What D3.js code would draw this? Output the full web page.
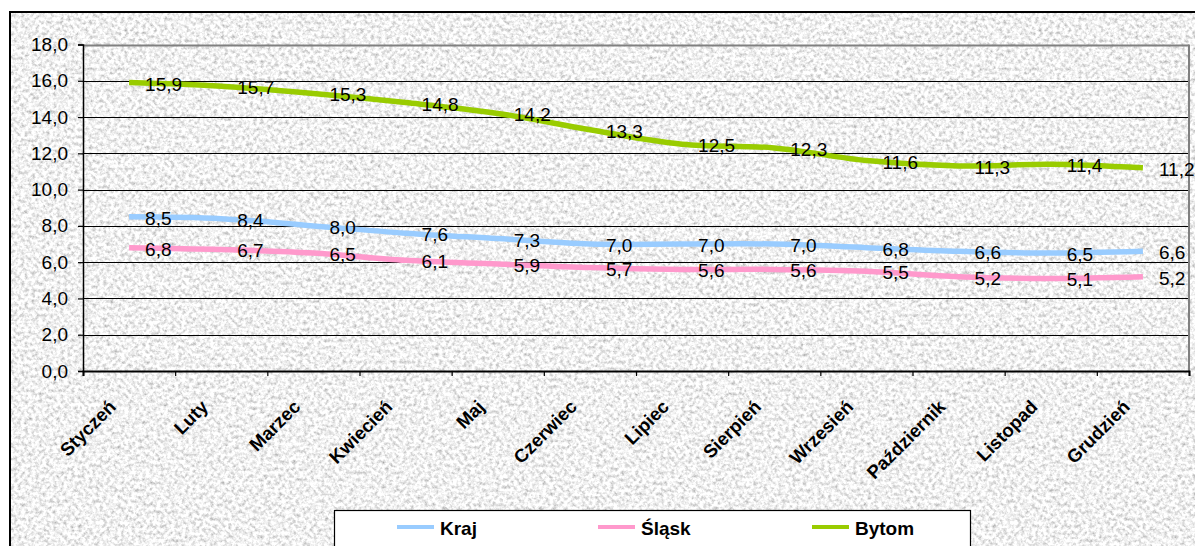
<!DOCTYPE html>
<html>
<head>
<meta charset="utf-8">
<script src="https://cdn.jsdelivr.net/npm/d3@7"></script>
<style>
  body { margin: 0; background: #fff; overflow: hidden; }
  text { font-family: "Liberation Sans", Arial, sans-serif; fill: #000; }
</style>
</head>
<body>
<div id="chart"></div>
<script>
const months = ["Styczeń", "Luty", "Marzec", "Kwiecień", "Maj", "Czerwiec", "Lipiec",
    "Sierpień", "Wrzesień", "Październik", "Listopad", "Grudzień"];
const kraj = [8.5, 8.4, 8.0, 7.6, 7.3, 7.0, 7.0, 7.0, 6.8, 6.6, 6.5, 6.6];
const slask = [6.8, 6.7, 6.5, 6.1, 5.9, 5.7, 5.6, 5.6, 5.5, 5.2, 5.1, 5.2];
const bytom = [15.9, 15.7, 15.3, 14.8, 14.2, 13.3, 12.5, 12.3, 11.6, 11.3, 11.4, 11.2];
const seriesNames = ["Kraj", "Śląsk", "Bytom"];
const yTicks = [0, 2, 4, 6, 8, 10, 12, 14, 16, 18];

const W = 1195, H = 546;
let plot = { left: 83, right: 1189, top: 44.5, bottom: 371 };

const series = [
    { name: seriesNames[0], values: kraj, color: "#99ccff" },
    { name: seriesNames[1], values: slask, color: "#ff99cc" },
    { name: seriesNames[2], values: bytom, color: "#99cc00" }
];

const pl = d3.formatLocale({ decimal: ",", thousands: " ", grouping: [3], currency: ["", ""] });
const fmt = pl.format(".1f");

const svg = d3.select("#chart").append("svg")
    .attr("width", W).attr("height", H);

// granite-like background texture
const defs = svg.append("defs");
const f = defs.append("filter").attr("id", "granite")
    .attr("x", 0).attr("y", 0).attr("width", "100%").attr("height", "100%");
f.append("feTurbulence").attr("type", "fractalNoise")
    .attr("baseFrequency", 0.28).attr("numOctaves", 4).attr("seed", 7).attr("result", "n");
f.append("feColorMatrix").attr("type", "matrix")
    .attr("values", "1.1 0 0 0 0.33  1.1 0 0 0 0.33  1.1 0 0 0 0.33  0 0 0 0 1");

svg.append("rect")
    .attr("x", 10).attr("y", 12).attr("width", 1300).attr("height", 700)
    .attr("fill", "#e4e4e4");
svg.append("rect")
    .attr("x", 10).attr("y", 12).attr("width", 1300).attr("height", 700)
    .attr("filter", "url(#granite)");
svg.append("rect")
    .attr("x", 10).attr("y", 12).attr("width", 1300).attr("height", 700)
    .attr("fill", "none").attr("stroke", "#000").attr("stroke-width", 2);

const x = d3.scaleBand().domain(months).range([plot.left, plot.right]);
const cx = m => x(m) + x.bandwidth() / 2;
const y = d3.scaleLinear().domain([0, 18]).range([plot.bottom, plot.top]);

// gridlines
svg.append("g")
    .selectAll("line")
    .data(yTicks.filter(d => d > 0))
    .join("line")
    .attr("x1", plot.left).attr("x2", plot.right)
    .attr("y1", d => Math.round(y(d)) + 0.5).attr("y2", d => Math.round(y(d)) + 0.5)
    .attr("stroke", d => d === 18 ? "#808080" : "#000")
    .attr("stroke-width", d => d === 18 ? 2 : 1.2);

// right border of plot area
svg.append("line")
    .attr("x1", plot.right).attr("x2", plot.right)
    .attr("y1", plot.top).attr("y2", plot.bottom)
    .attr("stroke", "#808080").attr("stroke-width", 2);

// y axis
const yAxis = svg.append("g")
    .attr("transform", `translate(${plot.left},0)`)
    .call(d3.axisLeft(y).tickValues(yTicks).tickSize(5).tickPadding(10).tickFormat(fmt));
yAxis.selectAll("line").attr("stroke", "#000").attr("stroke-width", 1.2);
yAxis.select(".domain").attr("stroke", "#000").attr("stroke-width", 1.5);
yAxis.selectAll("text").style("font-size", "19px").attr("font-family", null);

// x axis, ticks on category boundaries
const xb = d3.scaleLinear().domain([0, months.length]).range([plot.left, plot.right]);
const xAxis = svg.append("g")
    .attr("transform", `translate(0,${plot.bottom})`)
    .call(d3.axisBottom(xb).tickValues(d3.range(0, months.length + 1)).tickSize(5).tickFormat(""));
xAxis.selectAll("line").attr("stroke", "#000").attr("stroke-width", 1.2);
xAxis.select(".domain").attr("stroke", "#000").attr("stroke-width", 2);

svg.append("g")
    .selectAll("text")
    .data(months)
    .join("text")
    .attr("transform", d => `translate(${cx(d) - 12},408) rotate(-45)`)
    .attr("text-anchor", "end")
    .style("font-size", "18.5px")
    .style("font-weight", "bold")
    .text(d => d);

// lines
const line = d3.line()
    .x((d, i) => cx(months[i]))
    .y(d => y(d))
    .curve(d3.curveCatmullRom.alpha(0.5));

svg.append("g")
    .selectAll("path")
    .data(series)
    .join("path")
    .attr("d", d => line(d.values))
    .attr("fill", "none")
    .attr("stroke", d => d.color)
    .attr("stroke-width", 5.5)
    .attr("stroke-linecap", "butt");

// data labels
series.forEach(s => {
    svg.append("g")
        .selectAll("text")
        .data(s.values)
        .join("text")
        .attr("x", (d, i) => cx(months[i]) + 16)
        .attr("y", d => y(d))
        .attr("dy", "0.42em")
        .style("font-size", "19px")
        .text(d => fmt(d));
});

// legend
const lg = svg.append("g");
lg.append("rect")
    .attr("x", 334.5).attr("y", 510.5).attr("width", 636).attr("height", 60)
    .attr("fill", "#fff").attr("stroke", "#000").attr("stroke-width", 1.2);
const legX = [397, 598, 812];
series.forEach((s, i) => {
    lg.append("line")
        .attr("x1", legX[i]).attr("x2", legX[i] + 37)
        .attr("y1", 527).attr("y2", 527)
        .attr("stroke", s.color).attr("stroke-width", 4);
    lg.append("text")
        .attr("x", legX[i] + 43).attr("y", 535)
        .style("font-size", "19px").style("font-weight", "bold")
        .text(s.name);
});
</script>
</body>
</html>
